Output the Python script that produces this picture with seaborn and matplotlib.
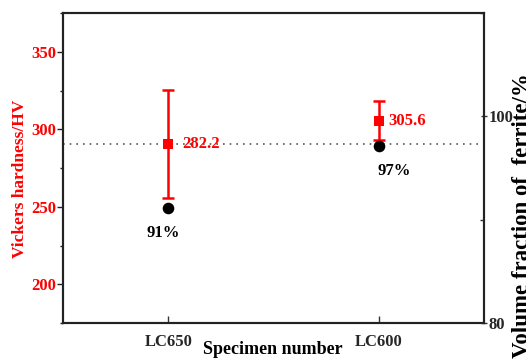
import matplotlib
matplotlib.use("Agg")
import matplotlib.pyplot as plt
import seaborn as sns
import pandas as pd
from matplotlib.ticker import MultipleLocator

# ---- data ----
specimens = ["LC650", "LC600"]
hardness = [290.5, 305.6]          # plotted positions of red squares
hardness_err = [35.0, 12.5]
hardness_labels = ["282.2", "305.6"]
ferrite = [91.1, 97.1]
ferrite_labels = ["91%", "97%"]
ref_line = 290.5

sns.set_style("white")
plt.rcParams['font.family'] = ['Liberation Serif', 'DejaVu Serif']
plt.rcParams['font.weight'] = 'bold'

fig = plt.figure(figsize=(5.26, 3.6), dpi=100)
ax = fig.add_axes([63/526, 1-323/360, (484-63)/526, (323-13)/360])
ax2 = ax.twinx()

df = pd.DataFrame({"spec": specimens, "hv": hardness, "err": hardness_err, "fe": ferrite})
xpos = list(range(len(specimens)))
df["x"] = xpos

red = "#ff0000"
ax.axhline(ref_line, color="#555555", ls=(0, (1, 3)), lw=1.2, zorder=1)
ax.errorbar(df["x"], df["hv"], yerr=df["err"], fmt="none", ecolor=red,
            elinewidth=1.8, capsize=4, capthick=1.8, zorder=3)
sns.scatterplot(data=df, x="x", y="hv", ax=ax, marker="s", color=red, s=55,
                edgecolor=red, linewidth=0, zorder=4, legend=False)
sns.scatterplot(data=df, x="x", y="fe", ax=ax2, marker="o", color="black", s=70,
                edgecolor="black", linewidth=0, zorder=4, legend=False)

hv_offsets = [(10, 0), (7, 0)]
fe_offsets = [(-4, -18), (11, -18)]
for x, y, t, off in zip(xpos, hardness, hardness_labels, hv_offsets):
    ax.annotate(t, (x, y), xytext=off, textcoords="offset points",
                ha="left", va="center", color=red, fontsize=12, fontweight="bold")
for x, y, t, off in zip(xpos, ferrite, ferrite_labels, fe_offsets):
    ax2.annotate(t, (x, y), xytext=off, textcoords="offset points",
                 ha="center", va="center", color="black", fontsize=12, fontweight="bold")

ax.set_xlim(-0.5, 1.5)
ax.set_ylim(175, 375)
ax2.set_ylim(80, 110)
ax.set_xticks(xpos)
ax.set_xticklabels(specimens, fontsize=12, fontweight="bold")
ax.set_yticks([200, 250, 300, 350])
ax.yaxis.set_minor_locator(MultipleLocator(25))
ax2.set_yticks([80, 100])
ax2.yaxis.set_minor_locator(MultipleLocator(10))

ax.tick_params(axis="y", which="major", direction="out", length=4, width=1, color="#222222",
               labelcolor=red, labelsize=12, left=True, pad=1)
ax.tick_params(axis="y", which="minor", direction="out", length=2.5, width=1, color="#222222", left=True)
ax.tick_params(axis="x", direction="in", length=5, width=1, color="#333333", labelsize=12, bottom=True, pad=8)
ax2.tick_params(axis="y", which="major", direction="inout", length=5, width=1, color="#333333",
                labelsize=12, right=True, pad=1)
ax2.tick_params(axis="y", which="minor", direction="in", length=3, width=1, color="#333333", right=True)
for lab in ax.get_yticklabels() + ax2.get_yticklabels() + ax.get_xticklabels():
    lab.set_fontweight("bold")

for a in (ax, ax2):
    for s in a.spines.values():
        s.set_color("#222222")
        s.set_linewidth(1.5)

ax.set_xlabel("")
ax.set_ylabel("")
ax2.set_ylabel("")
fig.text(273/526, 1-350/360, "Specimen number", ha="center", va="center",
         fontsize=13, fontweight="bold", color="black")
fig.text(20/526, 1-179/360, "Vickers hardness/HV", ha="center", va="center",
         rotation=90, fontsize=12.5, fontweight="bold", color=red)
fig.text(512/526, 1-358/360, "Volume fraction of  ferrite/%", ha="left", va="bottom",
         rotation=90, fontsize=16.5, fontweight="bold", color="black")

fig.savefig("out.png", dpi=100, facecolor="white")
